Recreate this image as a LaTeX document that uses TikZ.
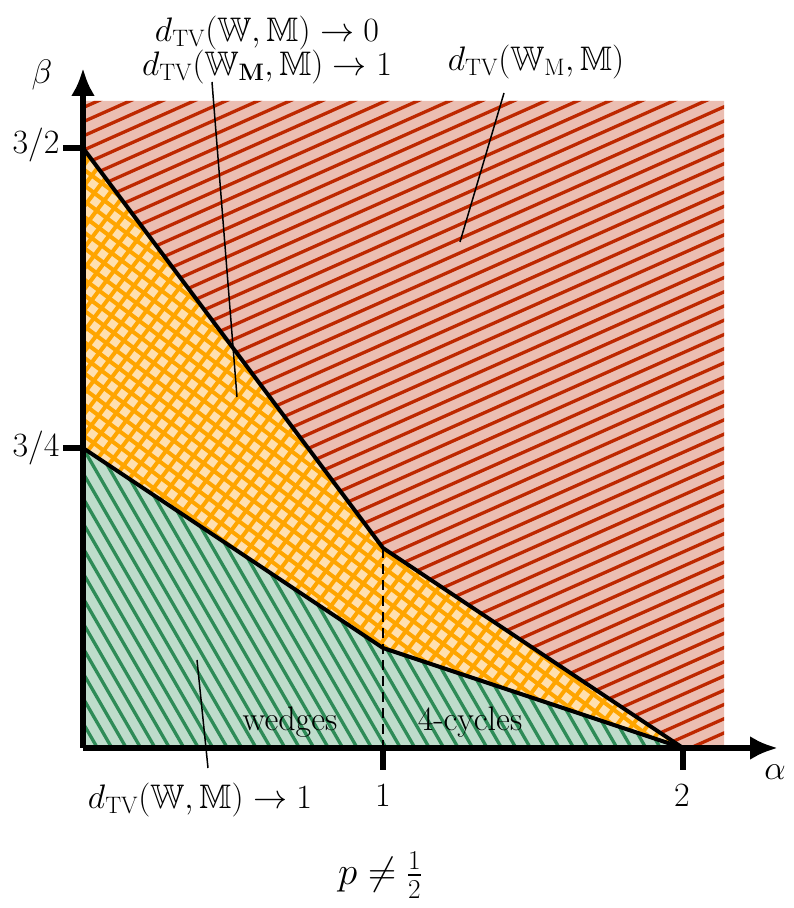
\RequirePackage{fix-cm}
\documentclass[tikz,border=0pt]{standalone}
\usepackage{amssymb}
\usetikzlibrary{arrows.meta}
\definecolor{redfill}{RGB}{235,190,178}
\definecolor{redline}{RGB}{190,40,0}
\definecolor{orfill}{RGB}{255,224,176}
\definecolor{orline}{RGB}{255,165,0}
\definecolor{grfill}{RGB}{190,220,203}
\definecolor{grline}{RGB}{46,139,87}
\tikzset{
  axis/.style={line width=6pt,-{Latex[length=28pt,width=24pt]}},
  tickmark/.style={line width=6pt},
  border/.style={line width=4pt,line join=round},
  leader/.style={line width=1.5pt},
  lbl/.style={font=\fontsize{34}{40}\selectfont,inner sep=0pt}
}
\newcommand{\hatchset}[4]{% angle, spacing, color, width
  \begin{scope}[rotate=#1]
    \foreach \k in {-90,...,90}
      \draw[line width=#4,#3] (-1300,\k*#2) -- (1300,\k*#2);
  \end{scope}}
\begin{document}
\begin{tikzpicture}[x=1pt,y=1pt]
\useasboundingbox (-83,-160) rectangle (710,748);
% red region
\begin{scope}
  \clip (0,600) -- (300,200) -- (600,0) -- (641,0) -- (641,647) -- (0,647) -- cycle;
  \fill[redfill] (-10,-10) rectangle (700,700);
  \hatchset{24}{13}{redline}{3.3pt}
\end{scope}
% orange region
\begin{scope}
  \clip (0,300) -- (300,100) -- (600,0) -- (300,200) -- (0,600) -- cycle;
  \fill[orfill] (-10,-10) rectangle (700,700);
  \hatchset{-37}{12.5}{orline}{4pt}
  \hatchset{53}{12.5}{orline}{4pt}
\end{scope}
% green region
\begin{scope}
  \clip (0,0) -- (0,300) -- (300,100) -- (600,0) -- cycle;
  \fill[grfill] (-10,-10) rectangle (700,700);
  \hatchset{-60}{12.5}{grline}{3.3pt}
\end{scope}
% boundaries
\coordinate (b0) at (0,600);
\coordinate (b1) at (300,200);
\coordinate (b2) at (600,0);
\coordinate (g0) at (0,300);
\coordinate (g1) at (300,100);
\coordinate (b3) at (300,0);
\draw[border] (b0) -- (b1) -- (b2);
\draw[border] (g0) -- (g1) -- (b2);
\draw[line width=2.8pt,dash pattern=on 10pt off 6pt] (b1) -- (b3);
% axes
\coordinate (o) at (0,0);
\coordinate (xe) at (695,0);
\coordinate (ye) at (0,680);
\draw[axis] (o) -- (xe);
\draw[axis] (o) -- (ye);
\draw[tickmark] (300,0) -- (300,-22);
\draw[tickmark] (600,0) -- (600,-22);
\draw[tickmark] (0,600) -- (-20,600);
\draw[tickmark] (0,300) -- (-20,300);
% tick labels
\node[lbl] (t1) at (300,-47) {1};
\node[lbl] (t2) at (599,-47) {2};
\node[lbl] (t32) at (-47,603) {3/2};
\node[lbl] (t34) at (-47,300) {3/4};
\node[lbl] (beta) at (-41,673) {$\beta$};
\node[lbl] (alpha) at (692,-24) {$\alpha$};
% region labels
\node[lbl] (wedges) at (207,26) {wedges};
\node[lbl] (cycles) at (387,26) {4-cycles};
\node[lbl,align=center] (toplbl) at (184,698)
  {$d_{\mathrm{TV}}(\mathbb{W},\mathbb{M})\to 0$\\[-6pt]$d_{\mathrm{TV}}(\mathbb{W}_{\mathbf{M}},\mathbb{M})\to 1$};
\node[lbl] (rightlbl) at (453,686) {$d_{\mathrm{TV}}(\mathbb{W}_{\mathrm{M}},\mathbb{M})$};
\node[lbl] (botlbl) at (117,-52) {$d_{\mathrm{TV}}(\mathbb{W},\mathbb{M})\to 1$};
\node[lbl,font=\fontsize{39}{44}\selectfont] (plbl) at (297,-127) {$p\neq\frac{1}{2}$};
% leaders
\coordinate (lr) at (377,506);
\coordinate (lm) at (154,351);
\coordinate (lb) at (114,88);
\draw[leader] (421,655) -- (lr);
\draw[leader] (129,666) -- (lm);
\draw[leader] (125,-20) -- (lb);
\end{tikzpicture}
\end{document}
